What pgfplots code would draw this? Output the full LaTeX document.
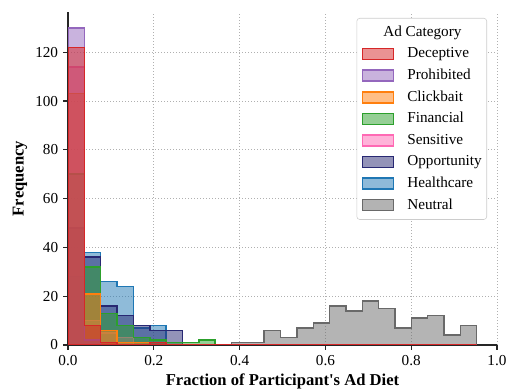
\documentclass[border=0pt]{standalone}
\usepackage{pgfplots}
\usepackage{pgfplotstable}
\pgfplotsset{compat=1.18}
\usepackage{fontspec}
\setmainfont{Liberation Serif}
\newlength\px \setlength\px{0.72bp}
\definecolor{cDec}{RGB}{214,39,40}
\definecolor{cPro}{RGB}{148,103,189}
\definecolor{cCli}{RGB}{255,127,14}
\definecolor{cFin}{RGB}{44,160,44}
\definecolor{cSen}{RGB}{255,105,180}
\definecolor{cOpp}{RGB}{40,40,115}
\definecolor{cHea}{RGB}{31,119,180}
\definecolor{cNeu}{RGB}{105,105,105}
\definecolor{gridc}{RGB}{176,176,176}
\newcommand{\legpatch}[1]{\addlegendimage{legend image code/.code={\draw[sharp corners,draw=#1,fill=#1,fill opacity=0.5,line width=1.5\px] (0pt,-5.5\px) rectangle (31\px,5.5\px);}}}
\pgfplotsset{hist/.style={const plot, draw=#1, fill=#1, fill opacity=0.5, line width=1.5\px, forget plot}}
\pgfplotstableread{
x dec pro cli fin sen opp hea neu
0.0000 122 130 103 70 114 48 28 0
0.0381 8 2 21 32 10 36 38 0
0.0762 1 0 6 13 5 16 26 0
0.1143 0 0 1 8 3 12 24 0
0.1524 0 0 1 3 0 8 7 0
0.1906 1 0 0 2 0 6 8 0
0.2287 0 0 0 1 0 6 0 0
0.2668 0 0 0 1 0 0 0 0
0.3049 0 0 0 2 0 0 0 0
0.3430 0 0 0 0 0 0 0 0
0.3811 0 0 0 0 0 0 0 1
0.4192 0 0 0 0 0 0 0 1
0.4573 0 0 0 0 0 0 0 6
0.4954 0 0 0 0 0 0 0 3
0.5335 0 0 0 0 0 0 0 7
0.5717 0 0 0 0 0 0 0 9
0.6098 0 0 0 0 0 0 0 16
0.6479 0 0 0 0 0 0 0 14
0.6860 0 0 0 0 0 0 0 18
0.7241 0 0 0 0 0 0 0 15
0.7622 0 0 0 0 0 0 0 7
0.8003 0 0 0 0 0 0 0 11
0.8384 0 0 0 0 0 0 0 12
0.8765 0 0 0 0 0 0 0 4
0.9146 0 0 0 0 0 0 0 8
0.9527 0 0 0 0 0 0 0 0
}\hdata
\begin{document}
\begin{tikzpicture}
\useasboundingbox (0pt,0pt) rectangle (510\px,390\px);
\begin{axis}[
  at={(68\px,45\px)}, anchor=south west,
  scale only axis, width=429\px, height=333\px,
  xmin=0, xmax=1, ymin=0, ymax=136.5,
  xtick={0,0.2,0.4,0.6,0.8,1.0},
  ytick={0,20,40,60,80,100,120},
  axis x line*=bottom, axis y line*=left,
  axis line style={line width=1.25\px, black!85},
  tick align=outside, major tick length=5\px,
  tick style={line width=1.25\px, black!85},
  /pgf/number format/assume math mode=true,
  tick label style={font=\fontsize{11}{13}\selectfont},
  xticklabel style={/pgf/number format/.cd, fixed, fixed zerofill, precision=1},
  yticklabel style={/pgf/number format/.cd, fixed, precision=0},
  grid=major,
  grid style={gridc, line width=1\px, dash pattern=on 1\px off 2\px},
  xlabel={Fraction of Participant\textquotesingle s Ad Diet},
  ylabel={Frequency},
  label style={font=\fontsize{12}{14}\selectfont\bfseries},
  xlabel style={at={(axis description cs:0.5,-0.108)}, anchor=center},
  ylabel style={at={(axis description cs:-0.112,0.5)}, anchor=center},
  legend style={at={(rel axis cs:0.9767,0.982)}, anchor=north east,
    draw=gray!40, rounded corners=3\px, fill=white,
    font=\fontsize{11}{13}\selectfont,
    inner xsep=5\px, inner ysep=7\px,
    row sep=7.0\px, column sep=13\px,
    nodes={inner sep=0pt, text height=8bp, text depth=2.5bp}},
  legend cell align=left,
]
\addlegendimage{empty legend}
\addlegendentry{\hspace*{-24\px}Ad Category}
\legpatch{cDec}\addlegendentry{Deceptive}
\legpatch{cPro}\addlegendentry{Prohibited}
\legpatch{cCli}\addlegendentry{Clickbait}
\legpatch{cFin}\addlegendentry{Financial}
\legpatch{cSen}\addlegendentry{Sensitive}
\legpatch{cOpp}\addlegendentry{Opportunity}
\legpatch{cHea}\addlegendentry{Healthcare}
\legpatch{cNeu}\addlegendentry{Neutral}
\addplot[hist=cNeu] table[x=x,y=neu]{\hdata} \closedcycle;
\addplot[hist=cHea] table[x=x,y=hea]{\hdata} \closedcycle;
\addplot[hist=cOpp] table[x=x,y=opp]{\hdata} \closedcycle;
\addplot[hist=cSen] table[x=x,y=sen]{\hdata} \closedcycle;
\addplot[hist=cFin] table[x=x,y=fin]{\hdata} \closedcycle;
\addplot[hist=cCli] table[x=x,y=cli]{\hdata} \closedcycle;
\addplot[hist=cPro] table[x=x,y=pro]{\hdata} \closedcycle;
\addplot[hist=cDec] table[x=x,y=dec]{\hdata} \closedcycle;
\end{axis}
\end{tikzpicture}
\end{document}
